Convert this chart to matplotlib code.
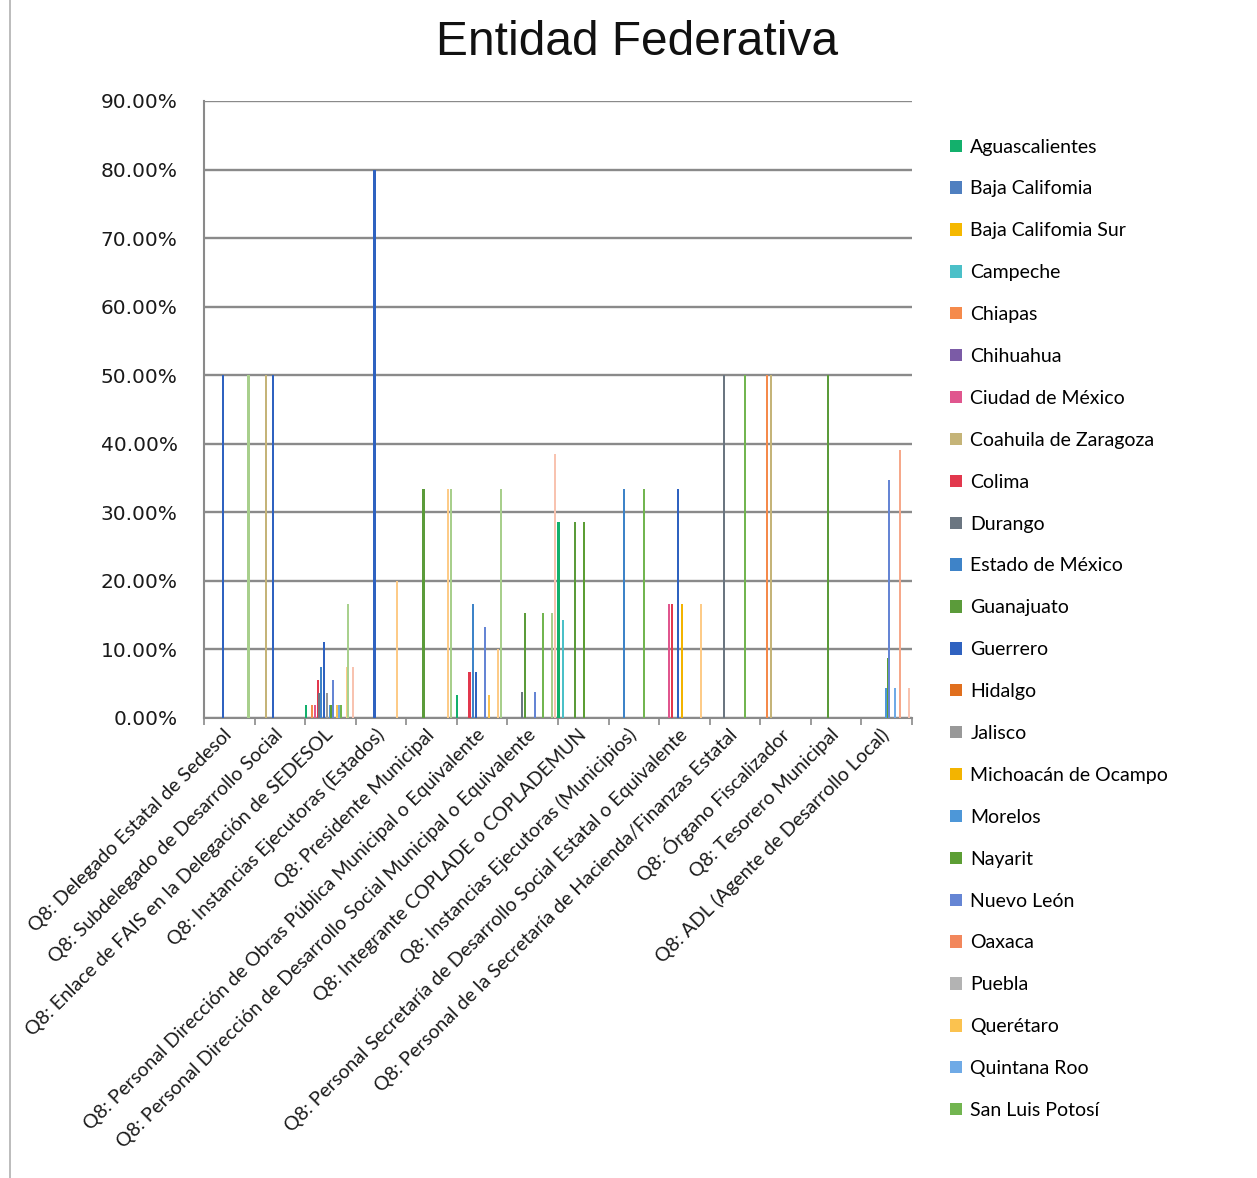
import matplotlib.pyplot as plt
from matplotlib.patches import Patch
from matplotlib.lines import Line2D
import numpy as np

categories = [
    "Q8: Delegado Estatal de Sedesol",
    "Q8: Subdelegado de Desarrollo Social",
    "Q8: Enlace de FAIS en la Delegación de SEDESOL",
    "Q8: Instancias Ejecutoras (Estados)",
    "Q8: Presidente Municipal",
    "Q8: Personal Dirección de Obras Pública Municipal o Equivalente",
    "Q8: Personal Dirección de Desarrollo Social Municipal o Equivalente",
    "Q8: Integrante COPLADE o COPLADEMUN",
    "Q8: Instancias Ejecutoras (Municipios)",
    "Q8: Personal Secretaría de Desarrollo Social Estatal o Equivalente",
    "Q8: Personal de la Secretaría de Hacienda/Finanzas Estatal",
    "Q8: Órgano Fiscalizador",
    "Q8: Tesorero Municipal",
    "Q8: ADL (Agente de Desarrollo Local)",
]

states = [
    "Aguascalientes", "Baja Califomia", "Baja Califomia Sur", "Campeche",
    "Chiapas", "Chihuahua", "Ciudad de México", "Coahuila de Zaragoza",
    "Colima", "Durango", "Estado de México", "Guanajuato", "Guerrero",
    "Hidalgo", "Jalisco", "Michoacán de Ocampo", "Morelos", "Nayarit",
    "Nuevo León", "Oaxaca", "Puebla", "Querétaro", "Quintana Roo",
    "San Luis Potosí", "Sinaloa", "Sonora", "Tabasco", "Tamaulipas",
    "Tlaxcala", "Veracruz", "Yucatán", "Zacatecas",
]

colors = [
    "#13B06C", "#4F7FC0", "#F5B800", "#4BC0C8", "#F58A4B", "#7B5BA6",
    "#E0568E", "#C5B478", "#E2384D", "#6B7681", "#3E83C8", "#5B9B3A",
    "#2F62C0", "#E06F1E", "#999999", "#F3B400", "#4D97D8", "#5C9E34",
    "#6585D4", "#F2875C", "#B3B3B3", "#FBC24F", "#6FAAE6", "#72B550",
    "#8ED1B0", "#F6A88A", "#FFE08A", "#FDCB88", "#A9D18E", "#A8CF8C",
    "#C9B8DB", "#F8C3B0",
]

# percentages per state, one value per category (states not listed are all 0)
values = {
    "Aguascalientes":       [0, 0, 1.85, 0, 0, 3.33, 0, 28.57, 0, 0, 0, 0, 0, 0],
    "Campeche":             [0, 0, 0, 0, 0, 0, 0, 14.29, 0, 0, 0, 0, 0, 0],
    "Chiapas":              [0, 0, 1.85, 0, 0, 0, 0, 0, 0, 0, 0, 50, 0, 0],
    "Ciudad de México":     [0, 0, 1.85, 0, 0, 0, 0, 0, 0, 16.67, 0, 0, 0, 0],
    "Coahuila de Zaragoza": [0, 50, 0, 0, 0, 0, 0, 0, 0, 0, 0, 50, 0, 0],
    "Colima":               [0, 0, 5.56, 0, 0, 6.67, 0, 0, 0, 16.67, 0, 0, 0, 0],
    "Durango":              [0, 0, 3.70, 0, 0, 0, 3.85, 0, 0, 0, 50, 0, 0, 0],
    "Estado de México":     [0, 0, 7.41, 0, 0, 16.67, 0, 0, 33.33, 0, 0, 0, 0, 0],
    "Guanajuato":           [0, 0, 0, 0, 33.33, 0, 15.38, 28.57, 0, 0, 0, 0, 50, 0],
    "Guerrero":             [50, 50, 11.11, 80, 0, 6.67, 0, 0, 0, 33.33, 0, 0, 0, 0],
    "Jalisco":              [0, 0, 3.70, 0, 0, 0, 0, 0, 0, 0, 0, 0, 0, 0],
    "Michoacán de Ocampo":  [0, 0, 0, 0, 0, 0, 0, 0, 0, 16.67, 0, 0, 0, 0],
    "Morelos":              [0, 0, 1.85, 0, 0, 0, 0, 0, 0, 0, 0, 0, 0, 4.35],
    "Nayarit":              [0, 0, 1.85, 0, 0, 0, 0, 28.57, 0, 0, 0, 0, 0, 8.70],
    "Nuevo León":           [0, 0, 5.56, 0, 0, 13.33, 3.85, 0, 0, 0, 0, 0, 0, 34.78],
    "Querétaro":            [0, 0, 1.85, 0, 0, 3.33, 0, 0, 0, 0, 0, 0, 0, 0],
    "Quintana Roo":         [0, 0, 1.85, 0, 0, 0, 0, 0, 0, 0, 0, 0, 0, 4.35],
    "San Luis Potosí":      [0, 0, 1.85, 0, 0, 0, 15.38, 0, 33.33, 0, 50, 0, 0, 0],
    "Sonora":               [0, 0, 0, 0, 0, 0, 0, 0, 0, 0, 0, 0, 0, 39.13],
    "Tamaulipas":           [0, 0, 7.41, 20, 33.33, 10, 0, 0, 0, 16.67, 0, 0, 0, 0],
    "Tlaxcala":             [0, 0, 16.67, 0, 0, 0, 0, 0, 0, 0, 0, 0, 0, 0],
    "Veracruz":             [50, 0, 0, 0, 33.33, 33.33, 15.38, 0, 0, 0, 0, 0, 0, 0],
    "Zacatecas":            [0, 0, 7.41, 0, 0, 0, 38.46, 0, 0, 0, 0, 0, 0, 4.35],
}

legend_count = 24  # the rest of the legend is cut off in the original

fig = plt.figure(figsize=(12.57, 11.78), dpi=100)
ax = fig.add_axes([0.1623, 0.3905, 0.5632, 0.5238])

n = len(states)
step = 0.030   # distance between neighbouring series inside a category
bw = 0.042     # drawn a bit wider than the step so thin bars keep their colour
x = np.arange(len(categories))
for i, st in enumerate(states):
    vals = values.get(st, [0] * len(categories))
    ax.bar(x + (i - (n - 1) / 2) * step - 0.024, vals, width=bw,
           color=colors[i], linewidth=0, zorder=3)

ax.set_xlim(-0.5, len(categories) - 0.5)
ax.set_ylim(0, 90)
ax.set_yticks(np.arange(0, 91, 10))
ax.set_yticklabels(["%.2f%%" % v for v in np.arange(0, 91, 10)],
                   fontsize=14.5, family="DejaVu Sans", color="#1a1a1a")
ax.tick_params(axis="y", length=0, pad=19)
ax.grid(axis="y", color="#8a8a8a", linewidth=1.7, zorder=1)

ax.set_xticks(x)
ax.set_xticklabels(categories, rotation=45, ha="right", va="center",
                   rotation_mode="anchor", fontsize=14, family="Lato",
                   color="#1a1a1a")
ax.tick_params(axis="x", length=0, pad=10)
ax.set_xticks(np.arange(len(categories) + 1) - 0.5, minor=True)
ax.tick_params(axis="x", which="minor", length=5, width=1.2, color="#8a8a8a")

for s in ["top", "right"]:
    ax.spines[s].set_visible(False)
for s in ["left", "bottom"]:
    ax.spines[s].set_color("#8a8a8a")
    ax.spines[s].set_linewidth(1.5)

fig.text(0.507, 0.964, "Entidad Federativa", ha="center", va="center",
         fontsize=34.5, family="Liberation Sans", color="#111111")

handles = [Patch(facecolor=colors[i], edgecolor="none") for i in range(legend_count)]
fig.legend(handles, states[:legend_count], loc="upper left",
           bbox_to_anchor=(0.7495, 0.889), frameon=False,
           prop={"family": "Lato", "size": 14},
           handlelength=0.6, handleheight=0.6, handletextpad=0.45,
           labelspacing=1.28, borderaxespad=0)

fig.add_artist(Line2D([0.008, 0.008], [0.0, 1.0], color="#b0b0b0", linewidth=1.2))

fig.savefig("out.png", dpi=100)
